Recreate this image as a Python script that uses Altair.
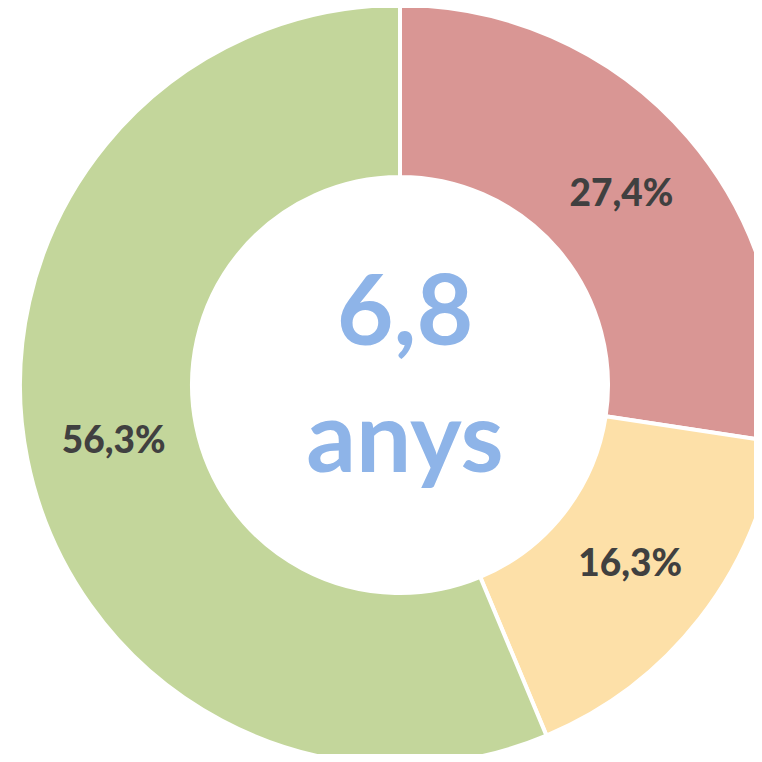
import altair as alt
import pandas as pd

categories = ["Segment 1", "Segment 2", "Segment 3"]
values = [27.4, 16.3, 56.3]
labels = ["27,4%", "16,3%", "56,3%"]
colors = ["#D99694", "#FDE0A8", "#C3D69B"]
center_lines = ["6,8", "anys"]

df = pd.DataFrame({"segment": categories, "value": values, "label": labels, "order": list(range(len(values)))})

CX, CY = 392, 377

base = alt.Chart(df).encode(
    theta=alt.Theta("value:Q", stack=True),
    order=alt.Order("order:Q"),
    x=alt.value(CX),
    y=alt.value(CY),
)

arcs = base.mark_arc(outerRadius=380, innerRadius=208, stroke="white", strokeWidth=4).encode(
    color=alt.Color("segment:N", scale=alt.Scale(domain=categories, range=colors), legend=None)
)

text = base.mark_text(radius=292, font="Lato", fontWeight=900, fontSize=37, color="#404040").encode(
    text="label:N"
)

center = alt.Chart(pd.DataFrame({"t": [center_lines]})).mark_text(
    font="Lato", fontWeight="bold", fontSize=98, color="#8EB4E8",
    baseline="alphabetic", align="center", lineHeight=127, dx=5
).encode(text="t", x=alt.value(CX), y=alt.value(337))

chart = alt.layer(arcs, text, center).properties(
    width=746, height=746, autosize=alt.AutoSizeParams(type="none"), padding=0
).configure_view(stroke=None)

chart.save("out.html", embed_options={"renderer": "svg", "actions": False})
